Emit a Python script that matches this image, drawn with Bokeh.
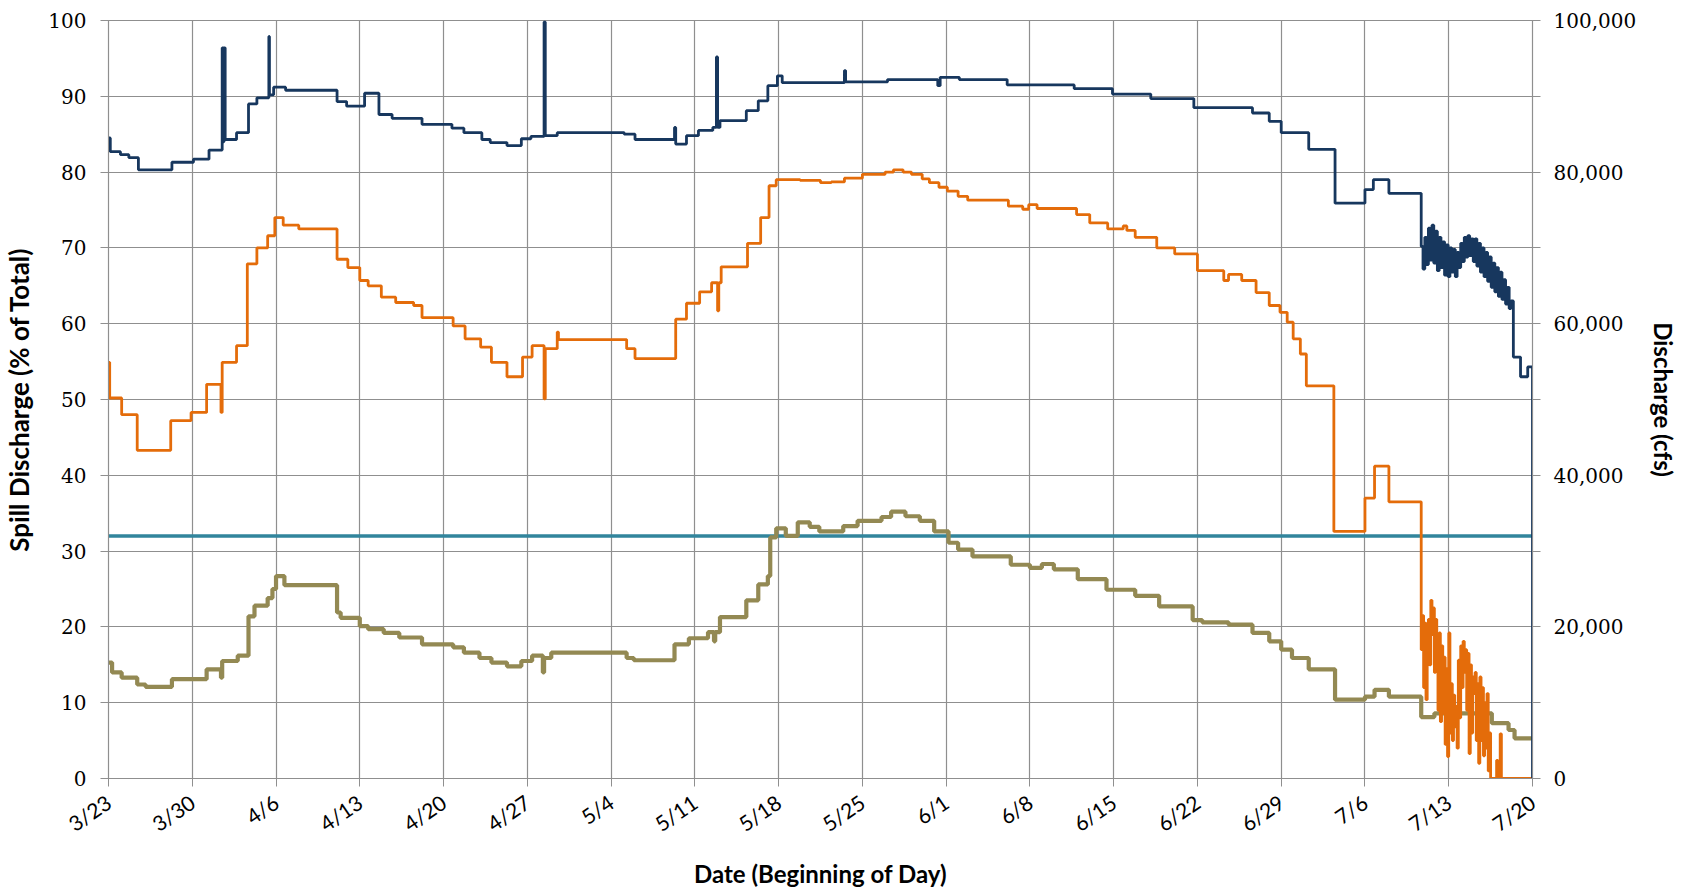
from bokeh.plotting import figure
from bokeh.models import Range1d, LinearAxis, FixedTicker, NumeralTickFormatter
from bokeh.embed import file_html
from bokeh.resources import INLINE

# ---------------- data (day offset from 3/23) ----------------
tick_days = [0, 7, 14, 21, 28, 35, 42, 49, 56, 63, 70, 77, 84, 91, 98, 105, 112, 119]
tick_labels = ["3/23", "3/30", "4/6", "4/13", "4/20", "4/27", "5/4", "5/11", "5/18",
               "5/25", "6/1", "6/8", "6/15", "6/22", "6/29", "7/6", "7/13", "7/20"]

# total discharge (cfs) - navy, right axis
total_day = [0, 0.15, 1.0, 1.7, 2.5, 5.3, 7.1, 8.4, 9.5, 9.6, 9.65, 9.75, 10.7, 11.7, 12.4,
             13.4, 13.45, 13.8, 14.8, 19.1, 19.9, 21.4, 22.6, 23.7, 26.2, 28.7, 29.7, 31.2,
             31.9, 33.3, 34.5, 35.3, 36.4, 36.5, 37.5, 43.1, 44.0, 47.3, 47.4, 48.3, 49.3,
             50.5, 50.8, 50.9, 51.1, 53.3, 54.3, 55.1, 55.9, 56.3, 61.5, 61.6, 65.1, 69.3,
             69.5, 71.1, 75.1, 80.7, 83.9, 87.1, 90.7, 95.6, 97.0, 98.0, 100.3, 102.5, 105.0,
             105.7, 107.0,
             109.70, 109.85, 110.00, 110.15, 110.30, 110.45, 110.60, 110.75, 110.90, 111.05,
             111.20, 111.35, 111.50, 111.65, 111.80, 111.95, 112.10, 112.25, 112.40, 112.55,
             112.70, 112.85, 113.00, 113.15, 113.30, 113.45, 113.60, 113.75, 113.90, 114.05,
             114.20, 114.35, 114.50, 114.65, 114.80, 114.95, 115.10, 115.25, 115.40, 115.55,
             115.70, 115.85, 116.00, 116.15, 116.30, 116.45, 116.60, 116.75, 116.90, 117.05,
             117.20, 117.40, 118.0, 118.6, 119.0]
total_cfs = [84500, 82700, 82300, 81900, 80300, 81300, 81700, 82900, 96400, 84000, 96400, 84300,
             85200, 89000, 89800, 97900, 90200, 91200, 90800, 89300, 88700, 90400, 87600, 87100,
             86300, 85800, 85200, 84300, 83900, 83500, 84400, 84700, 99800, 84800, 85200, 85000,
             84300, 85900, 83700, 84800, 85500, 85900, 95200, 85900, 86800, 88100, 89400, 91400,
             92700, 91800, 93400, 91900, 92200, 91400, 92500, 92200, 91500, 91000, 90300, 89700,
             88500, 87800, 86700, 85200, 83000, 75900, 77700, 79000, 77200,
             70200, 67200, 71400, 67800, 72600, 68400, 73000, 68000, 72200, 67000,
             71400, 67400, 70800, 66400, 70400, 66200, 70000, 66800, 69800, 66200,
             69400, 67400, 70600, 68200, 71400, 68800, 71600, 69000, 71200, 68200,
             71200, 67600, 70600, 66800, 70000, 66200, 69400, 65600, 68800, 64800,
             68000, 64200, 67400, 63600, 66800, 63200, 65800, 62600, 64800, 62000,
             63000, 55600, 53000, 54300, 0]

# spill discharge (% of total) - orange, left axis
spill_day = [0, 0.1, 1.1, 2.4, 5.2, 6.9, 8.2, 9.4, 9.5, 10.7, 11.6, 12.4, 13.3, 13.9, 14.6,
             15.9, 19.1, 20.0, 21.0, 21.7, 22.8, 24.0, 25.5, 26.2, 28.8, 29.8, 31.1, 32.0,
             33.3, 34.6, 35.4, 36.4, 36.5, 37.5, 37.6, 43.3, 44.0, 47.4, 48.3, 49.4, 50.4,
             50.9, 51.0, 51.2, 53.4, 54.5, 55.2, 55.8, 57.8, 59.5, 60.4, 61.5, 63.0, 64.9,
             65.6, 66.4, 67.1, 68.0, 68.6, 69.4, 70.1, 71.0, 71.8, 75.2, 76.4, 76.9, 77.6,
             80.9, 82.0, 83.5, 84.8, 85.1, 85.8, 87.6, 89.1, 91.0, 93.2, 93.6, 94.7, 95.9,
             97.0, 97.9, 98.5, 99.0, 99.6, 100.1, 102.4, 105.0, 105.8, 107.0,
             109.7, 109.8, 109.9, 110.0, 110.1, 110.2, 110.3, 110.4, 110.5, 110.6, 110.7,
             110.8, 110.9, 111.0, 111.1, 111.2, 111.3, 111.4, 111.5, 111.6, 111.7, 111.8,
             111.9, 112.0, 112.1, 112.2, 112.3, 112.4, 112.5, 112.6, 112.7, 112.8, 112.9,
             113.0, 113.1, 113.2, 113.3, 113.4, 113.5, 113.6, 113.7, 113.8, 113.9, 114.0,
             114.1, 114.2, 114.3, 114.4, 114.5, 114.6, 114.7, 114.8, 114.9, 115.0, 115.1,
             115.2, 115.3, 115.4, 115.5, 115.6, 116.0, 116.1, 116.3, 116.4, 119.0]
spill_pct = [54.9, 50.2, 48.0, 43.3, 47.2, 48.3, 52.0, 48.3, 54.9, 57.1, 67.9, 70.0, 71.6, 74.0,
             73.0, 72.5, 68.5, 67.4, 65.7, 65.0, 63.5, 62.8, 62.4, 60.8, 59.7, 58.0, 56.9, 54.9,
             53.0, 55.6, 57.1, 50.1, 56.7, 58.9, 57.9, 56.7, 55.4, 60.6, 62.7, 64.2, 65.4, 61.7,
             65.4, 67.5, 70.6, 74.0, 78.2, 79.0, 78.9, 78.6, 78.7, 79.2, 79.7, 80.0, 80.3, 80.0,
             79.7, 79.1, 78.6, 78.0, 77.5, 76.8, 76.3, 75.5, 75.1, 75.7, 75.2, 74.4, 73.3, 72.5,
             72.9, 72.3, 71.4, 70.0, 69.2, 67.0, 65.7, 66.5, 65.7, 64.1, 62.4, 61.5, 60.2, 58.0,
             56.0, 51.8, 32.6, 37.0, 41.2, 36.5,
             17.0, 21.5, 12.0, 20.5, 10.4, 18.0, 21.0, 15.0, 23.5, 19.0, 22.5,
             14.0, 21.0, 16.5, 9.0, 19.2, 7.5, 17.5, 8.6, 16.0, 4.5, 14.5,
             2.9, 19.2, 6.0, 12.5, 5.0, 11.0, 6.8, 9.5, 4.0, 15.6, 8.0,
             17.5, 12.0, 18.1, 14.0, 17.0, 9.0, 16.5, 3.3, 15.0, 6.0, 13.4,
             11.2, 14.0, 5.0, 12.5, 2.0, 13.4, 5.0, 12.0, 3.0, 10.0, 4.0,
             11.2, 1.0, 6.0, 0.0, 0.0, 2.4, 0.0, 5.9, 0.0, 0.0]

# spill discharge (cfs) - olive, right axis
spillq_day = [0, 0.3, 1.1, 2.4, 3.1, 5.3, 8.2, 9.4, 9.5, 10.8, 11.7, 12.2, 13.3, 13.7, 14.0,
              14.7, 19.1, 19.4, 21.0, 21.7, 23.0, 24.3, 26.2, 28.8, 29.7, 31.0, 32.0, 33.3,
              34.5, 35.4, 36.3, 36.4, 37.0, 43.3, 43.9, 47.3, 48.5, 50.1, 50.6, 50.7, 51.1,
              53.3, 54.3, 55.1, 55.3, 55.8, 56.6, 57.6, 58.6, 59.4, 61.4, 62.6, 64.6, 65.4,
              66.6, 67.8, 69.0, 70.2, 71.0, 72.2, 75.4, 77.0, 78.0, 79.0, 81.0, 83.4, 85.8,
              87.8, 90.6, 91.4, 93.6, 95.6, 97.0, 98.0, 98.9, 100.3, 102.5, 105.0, 105.8,
              107.0, 109.7, 110.8, 115.6, 117.0, 117.5, 119.0]
spillq_cfs = [15300, 14000, 13300, 12400, 12100, 13100, 14400, 13300, 15500, 16200, 21400,
              22800, 23800, 25000, 26700, 25500, 21900, 21200, 20100, 19700, 19200, 18600,
              17700, 17300, 16600, 15900, 15300, 14800, 15500, 16200, 14000, 15900, 16600,
              15900, 15600, 17700, 18500, 19300, 18100, 19300, 21300, 23500, 25600, 26700,
              31800, 33000, 32000, 33800, 33200, 32600, 33300, 34000, 34500, 35200, 34600,
              34000, 32600, 31100, 30200, 29300, 28200, 27800, 28300, 27600, 26300, 24900,
              24100, 22700, 20900, 20600, 20300, 19200, 18100, 17000, 15900, 14400, 10400,
              10800, 11700, 10800, 8100, 8600, 7300, 6400, 5300, 5300]

# spill cap (% of total) - teal, left axis
cap_day = [0, 119]
cap_pct = [32, 32]

left_ticks = [0, 10, 20, 30, 40, 50, 60, 70, 80, 90, 100]
right_ticks = [0, 20000, 40000, 60000, 80000, 100000]
right_minor = [10000, 30000, 50000, 70000, 90000]

# ---------------- figure ----------------
GRID = "#8f8f8f"
p = figure(frame_width=1424, frame_height=758, output_backend="svg", toolbar_location=None,
           x_range=Range1d(0, 119), y_range=Range1d(0, 100),
           min_border_left=103, min_border_right=141, min_border_top=20, min_border_bottom=104,
           background_fill_color="white", border_fill_color="white",
           outline_line_color=GRID, outline_line_width=1.2)
p.extra_y_ranges = {"cfs": Range1d(0, 100000)}

p.xgrid.ticker = FixedTicker(ticks=tick_days)
p.ygrid.ticker = FixedTicker(ticks=left_ticks)
p.xgrid.grid_line_color = GRID
p.ygrid.grid_line_color = GRID
p.xgrid.grid_line_width = 1.2
p.ygrid.grid_line_width = 1.2

# bottom axis
xa = p.xaxis[0]
xa.ticker = FixedTicker(ticks=tick_days)
xa.major_label_overrides = {d: s for d, s in zip(tick_days, tick_labels)}
xa.major_label_orientation = 0.6
xa.axis_line_color = GRID
xa.major_tick_line_color = GRID
xa.major_tick_out = 8
xa.major_tick_in = 0
xa.minor_tick_line_color = None
xa.major_label_text_font = "Lato"
xa.major_label_text_font_size = "21px"
xa.major_label_text_color = "black"
xa.major_label_standoff = 13
xa.axis_label = "Date (Beginning of Day)"
xa.axis_label_text_font = "Lato"
xa.axis_label_text_font_style = "bold"
xa.axis_label_text_font_size = "24px"
xa.axis_label_text_color = "black"
xa.axis_label_standoff = 10

# left axis
ya = p.yaxis[0]
ya.ticker = FixedTicker(ticks=left_ticks)
ya.axis_line_color = GRID
ya.major_tick_line_color = GRID
ya.major_tick_out = 8
ya.major_tick_in = 0
ya.minor_tick_line_color = None
ya.major_label_text_font = "DejaVu Serif"
ya.major_label_text_font_size = "20px"
ya.major_label_text_color = "black"
ya.major_label_standoff = 14
ya.axis_label = "Spill Discharge (% of Total)"
ya.axis_label_text_font = "Lato"
ya.axis_label_text_font_style = "bold"
ya.axis_label_text_font_size = "26px"
ya.axis_label_text_color = "black"
ya.axis_label_standoff = 10

# right axis
ra = LinearAxis(y_range_name="cfs",
                ticker=FixedTicker(ticks=right_ticks, minor_ticks=right_minor),
                formatter=NumeralTickFormatter(format="0,0"))
ra.axis_line_color = GRID
ra.major_tick_line_color = GRID
ra.minor_tick_line_color = GRID
ra.major_tick_out = 8
ra.major_tick_in = 0
ra.minor_tick_out = 8
ra.minor_tick_in = 0
ra.major_label_text_font = "DejaVu Serif"
ra.major_label_text_font_size = "20px"
ra.major_label_text_color = "black"
ra.major_label_standoff = 13
ra.axis_label = "Discharge (cfs)"
ra.axis_label_text_font = "Lato"
ra.axis_label_text_font_style = "bold"
ra.axis_label_text_font_size = "24px"
ra.axis_label_text_color = "black"
ra.axis_label_standoff = 10
p.add_layout(ra, "right")

# ---------------- series ----------------
p.step(cap_day, cap_pct, mode="after", line_color="#31859C", line_width=3.5)
p.step(spillq_day, spillq_cfs, mode="after", y_range_name="cfs",
       line_color="#938953", line_width=4.2)
p.step(spill_day, spill_pct, mode="after", line_color="#E46C0A", line_width=2.8)
p.step(total_day, total_cfs, mode="after", y_range_name="cfs",
       line_color="#17375E", line_width=2.8)

open("out.html", "w").write(file_html(p, INLINE))
